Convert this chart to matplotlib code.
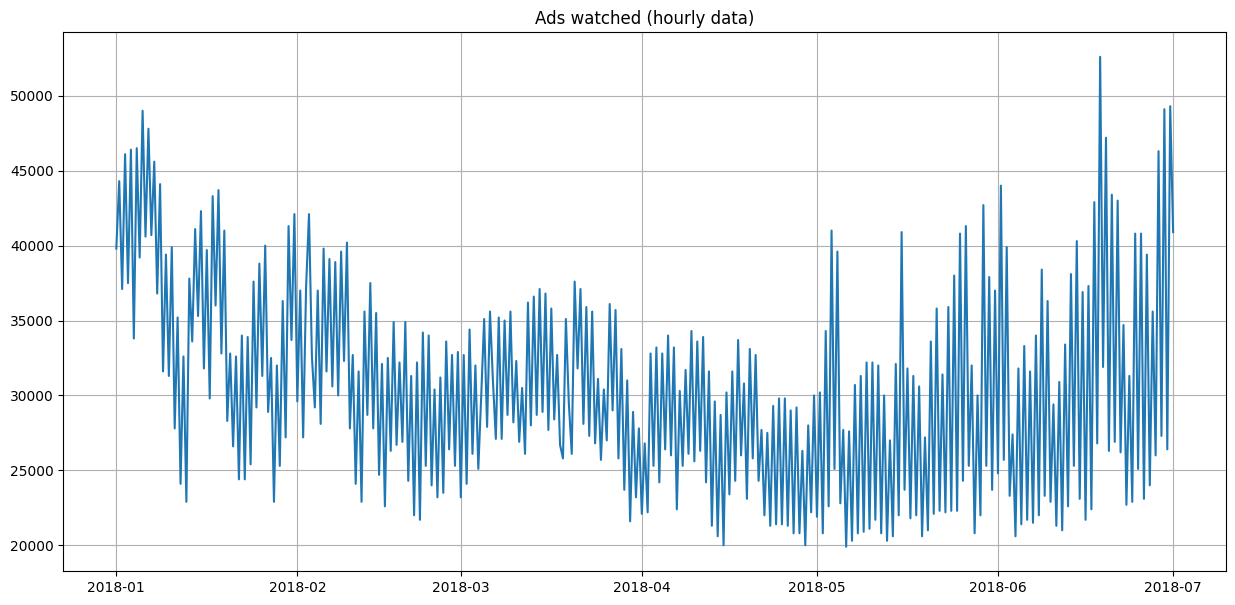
import matplotlib
matplotlib.use('Agg')
import matplotlib.pyplot as plt
import numpy as np
import pandas as pd

# ads watched at ~12 hour steps (high / low of each day)
jan = [39800, 44300, 37100, 46100, 37500, 46400, 33800, 46500, 39200, 49000,
       40600, 47800, 40700, 45600, 36800, 44100, 31600, 39400, 31300, 39900,
       27800, 35200, 24100, 32600, 22900, 37800, 33600, 41100, 35300, 42300,
       31800, 39700, 29800, 43300, 36000, 43700, 32800, 41000, 28300, 32800,
       26600, 32600, 24400, 34000, 24400, 33900, 25400, 37600, 29200, 38800,
       31300, 40000, 28900, 32500, 22900, 32000, 25300, 36300, 27200, 41300,
       33700, 42100]
feb = [29600, 37000, 27200, 37200, 42100, 32600, 29200, 37000, 28100, 39800,
       31600, 39100, 30600, 38900, 30000, 39600, 32300, 40200, 27800, 32700,
       24100, 31600, 22900, 35600, 28700, 37500, 27800, 35500, 24700, 32100,
       22600, 32500, 26300, 34900, 26700, 32200, 26900, 34900, 24300, 31300,
       22000, 32200, 21700, 34200, 25300, 34000, 24000, 30400, 23200, 31200,
       23500, 33600, 26400, 32700, 25300, 32900]
mar = [23200, 32700, 24100, 34400, 26100, 32000, 25100, 30000, 35100, 27900,
       35600, 31000, 27100, 35200, 27100, 35000, 28700, 35600, 28200, 32300,
       26900, 30500, 26100, 36200, 28000, 36600, 28700, 37100, 28900, 36800,
       27700, 35800, 28400, 32700, 26700, 25800, 35100, 29500, 26100, 37600,
       31800, 37100, 28100, 35900, 27300, 35600, 26800, 31100, 25700, 30400,
       27000, 36100, 29000, 35700, 25800, 33100, 23700, 31000, 21600, 28900,
       23200, 27800]
apr = [22100, 26800, 22200, 32800, 25300, 33200, 24200, 32800, 26400, 34000,
       26000, 33200, 22400, 30300, 25300, 31700, 26100, 34300, 25600, 33600,
       26300, 33900, 24200, 31600, 21300, 29600, 20600, 28700, 20000, 30200,
       23400, 31600, 24300, 33700, 26000, 30800, 23100, 33100, 25800, 32700,
       24300, 27700, 22000, 27500, 21300, 29300, 21400, 29800, 21400, 29800,
       21300, 29000, 20800, 29200, 20800, 26300, 20000, 28000, 22200, 30000]
may = [21900, 30200, 20800, 34300, 22600, 41000, 25100, 39600, 22800, 27700,
       19900, 27600, 20300, 30700, 20800, 31300, 20900, 32200, 21100, 32200,
       21700, 32000, 20800, 30000, 20300, 27000, 20600, 32100, 22000, 40900,
       23700, 31800, 21800, 31300, 22000, 30600, 20600, 27200, 21000, 33600,
       22100, 35800, 22300, 31400, 22200, 35900, 22300, 38000, 22300, 40800,
       24300, 41300, 25300, 32000, 20800, 30000, 22000, 42700, 25300, 37900,
       23700, 37000]
jun = [24800, 44000, 25700, 39900, 23300, 27400, 20600, 31800, 21400, 33300,
       21700, 31600, 21500, 34000, 22000, 38400, 23300, 36300, 22900, 29400,
       21300, 30900, 21000, 33400, 22600, 38100, 25300, 40300, 23100, 36900,
       21700, 37300, 22400, 42900, 26800, 52600, 31900, 47200, 26300, 43400,
       26900, 43000, 26200, 34700, 22700, 31300, 22900, 40800, 25100, 40800,
       23100, 39400, 24000, 35600, 26000, 46300, 27300, 49100, 26400, 49300]
jul = [40900]

ads = jan + feb + mar + apr + may + jun + jul
time = pd.date_range('2018-01-01', periods=len(ads), freq='12h')

plt.figure(figsize=(15, 7))
plt.plot(time, ads)
plt.title('Ads watched (hourly data)')
plt.grid(True)
plt.savefig('out.png', bbox_inches='tight')
